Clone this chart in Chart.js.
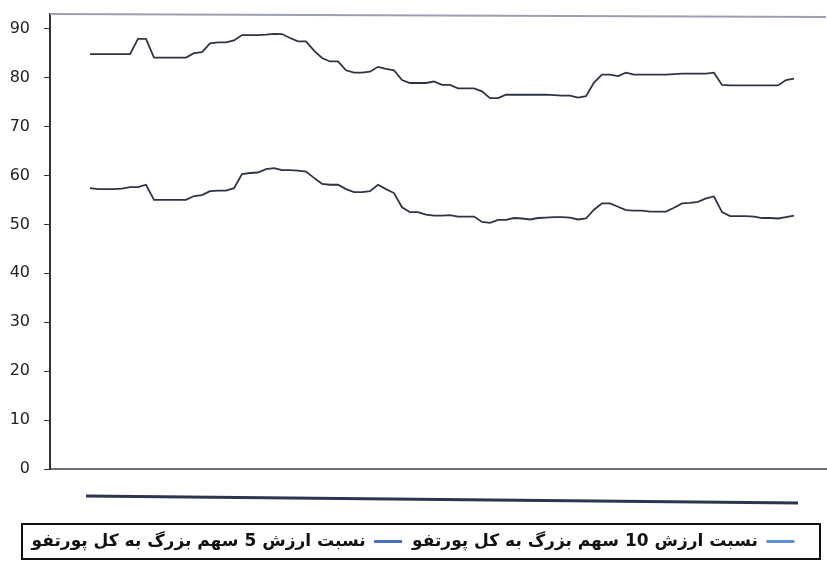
<!DOCTYPE html>
<html>
<head>
<meta charset="utf-8">
<script src="https://cdn.jsdelivr.net/npm/chart.js@4"></script>
<style>
html,body{margin:0;padding:0;background:#fff;}
#wrap{width:827px;height:564px;position:relative;}
</style>
</head>
<body>
<div id="wrap"><canvas id="c"></canvas></div>
<script>
// Day index (x) for each observation
const days = Array.from({length: 89}, (_, i) => i);

// Ratio of top-10 holdings to whole portfolio (%)
const top10 = [
  84.8, 84.8, 84.8, 84.8, 84.8, 84.8, 87.9, 87.9, 84.1, 84.1,
  84.1, 84.1, 84.1, 85.0, 85.2, 87.0, 87.2, 87.2, 87.6, 88.7,
  88.7, 88.7, 88.8, 88.95, 88.9, 88.1, 87.4, 87.4, 85.5, 84.0,
  83.3, 83.3, 81.5, 81.0, 81.0, 81.2, 82.2, 81.8, 81.5, 79.5,
  78.9, 78.9, 78.9, 79.2, 78.5, 78.5, 77.8, 77.8, 77.8, 77.2,
  75.8, 75.8, 76.5, 76.5, 76.5, 76.5, 76.5, 76.5, 76.4, 76.3,
  76.3, 75.9, 76.2, 79.0, 80.6, 80.6, 80.3, 81.0, 80.6, 80.6,
  80.6, 80.6, 80.6, 80.7, 80.8, 80.8, 80.8, 80.8, 81.0, 78.5,
  78.4, 78.4, 78.4, 78.4, 78.4, 78.4, 78.4, 79.5, 79.8
];

// Ratio of top-5 holdings to whole portfolio (%)
const top5 = [
  57.4, 57.2, 57.2, 57.2, 57.3, 57.6, 57.6, 58.1, 55.0, 55.0,
  55.0, 55.0, 55.0, 55.8, 56.0, 56.8, 56.9, 56.9, 57.4, 60.3,
  60.5, 60.6, 61.3, 61.5, 61.1, 61.1, 61.0, 60.8, 59.5, 58.3,
  58.1, 58.1, 57.2, 56.6, 56.6, 56.8, 58.1, 57.2, 56.4, 53.5,
  52.5, 52.5, 52.0, 51.8, 51.8, 51.9, 51.6, 51.6, 51.6, 50.5,
  50.3, 50.9, 50.9, 51.3, 51.2, 51.0, 51.3, 51.4, 51.5, 51.5,
  51.4, 51.0, 51.2, 53.0, 54.3, 54.3, 53.6, 52.9, 52.8, 52.8,
  52.6, 52.6, 52.6, 53.4, 54.3, 54.4, 54.6, 55.3, 55.7, 52.5,
  51.7, 51.7, 51.7, 51.6, 51.3, 51.3, 51.2, 51.5, 51.8
];

const yTicks = [0, 10, 20, 30, 40, 50, 60, 70, 80, 90];

const label10 = 'نسبت ارزش 10 سهم بزرگ به کل پورتفو';
const label5 = 'نسبت ارزش 5 سهم بزرگ به کل پورتفو';

const toPts = arr => arr.map((v, i) => ({x: days[i], y: v}));

const frame = {
  id: 'frame',
  afterDraw(chart) {
    const ctx = chart.ctx, a = chart.chartArea, lg = chart.legend;
    ctx.save();
    // top border of plot
    ctx.strokeStyle = '#9aa0b0';
    ctx.lineWidth = 2;
    ctx.beginPath();
    ctx.moveTo(a.left, a.top);
    ctx.lineTo(a.right, a.top + 3);
    ctx.stroke();
    // blurred category band under the axis
    const xs = chart.scales.x;
    ctx.strokeStyle = '#2b3550';
    ctx.lineWidth = 3;
    ctx.beginPath();
    ctx.moveTo(xs.getPixelForValue(days[0]) - 4, a.bottom + 27);
    ctx.lineTo(xs.getPixelForValue(days[days.length - 1]) + 4, a.bottom + 34);
    ctx.stroke();
    // legend box
    ctx.strokeStyle = '#111';
    ctx.lineWidth = 2;
    ctx.strokeRect(22, lg.top + 1, 798, lg.height - 2);
    ctx.restore();
  }
};

new Chart(document.getElementById('c'), {
  type: 'line',
  data: {
    datasets: [
      {label: label10, data: toPts(top10), borderColor: '#2c3446', backgroundColor: '#4f7ad0', borderWidth: 1.8, pointRadius: 0, tension: 0},
      {label: label5, data: toPts(top5), borderColor: '#2c3446', backgroundColor: '#4f7ad0', borderWidth: 1.8, pointRadius: 0, tension: 0}
    ]
  },
  options: {
    responsive: true,
    maintainAspectRatio: false,
    animation: false,
    layout: {padding: {left: 0, right: 1, top: 14, bottom: 4}},
    plugins: {
      tooltip: {enabled: false},
      legend: {
        position: 'bottom',
        rtl: true,
        textDirection: 'rtl',
        labels: {
          usePointStyle: true,
          pointStyle: 'line',
          pointStyleWidth: 28,
          boxWidth: 28,
          color: '#111',
          font: {family: 'DejaVu Sans', size: 17, weight: 'bold'},
          padding: 10,
          generateLabels(chart) {
            return chart.data.datasets.map((d, i) => ({
              text: d.label,
              strokeStyle: i === 0 ? '#5b8fd8' : '#4a6fc4',
              fillStyle: '#5b8fd8',
              lineWidth: 3,
              pointStyle: 'line',
              datasetIndex: i,
              hidden: false,
              fontColor: '#111'
            }));
          }
        }
      }
    },
    scales: {
      x: {
        type: 'linear',
        min: -5,
        max: 92,
        ticks: {display: false},
        grid: {display: false},
        border: {display: true, color: '#6a6f7a', width: 2},
        afterFit(s) { s.height = 54; }
      },
      y: {
        min: 0,
        max: 93,
        afterBuildTicks(s) { s.ticks = yTicks.map(v => ({value: v})); },
        ticks: {
          color: '#222',
          padding: 14,
          font: {family: 'DejaVu Sans', size: 16}
        },
        grid: {drawOnChartArea: false, drawTicks: true, tickLength: 6, color: '#333'},
        border: {display: true, color: '#333', width: 2},
        afterFit(s) { s.width = 50; s.paddingTop = 0; s.paddingBottom = 0; }
      }
    }
  },
  plugins: [frame]
});
</script>
</body>
</html>
